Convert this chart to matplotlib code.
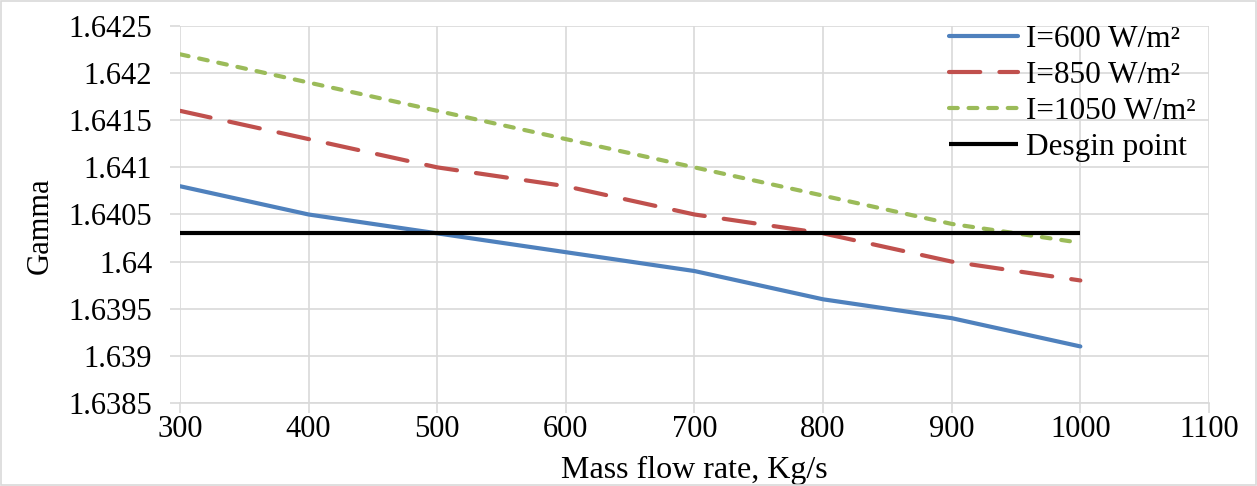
import numpy as np
import matplotlib.pyplot as plt

plt.rcParams.update({'font.family': 'serif'})
plt.rcParams.update({'font.serif': ['Liberation Serif', 'DejaVu Serif']})

# data
mass_flow = [300, 400, 500, 600, 700, 800, 900, 1000]
gamma_600 = [1.6408, 1.6405, 1.6403, 1.6401, 1.6399, 1.6396, 1.6394, 1.6391]
gamma_850 = [1.6416, 1.6413, 1.6410, 1.6408, 1.6405, 1.6403, 1.6400, 1.6398]
gamma_1050 = [1.6422, 1.6419, 1.6416, 1.6413, 1.6410, 1.6407, 1.6404, 1.6402]
design_point = [1.6403] * len(mass_flow)
labels = ['I=600 W/m²', 'I=850 W/m²', 'I=1050 W/m²', 'Desgin point']
ytick_labels = ['1.6385', '1.639', '1.6395', '1.64', '1.6405', '1.641',
                '1.6415', '1.642', '1.6425']

colors = ['#4F81BD', '#C0504D', '#9BBB59', '#000000']

fig = plt.figure(figsize=(12.57, 4.86), dpi=100)
ax = fig.add_axes([0.1432, 0.1708, 0.8186, 0.7757])

lw = 3.0
ax.plot(mass_flow, gamma_600, color=colors[0], lw=lw, label=labels[0],
        solid_capstyle='round')
ax.plot(mass_flow, gamma_850, color=colors[1], lw=lw, dashes=(7.5, 4.6),
        dash_capstyle='round', label=labels[1])
ax.plot(mass_flow, gamma_1050, color=colors[2], lw=lw, dashes=(2.1, 2.6),
        dash_capstyle='round', label=labels[2])
ax.plot(mass_flow, design_point, color=colors[3], lw=lw, label=labels[3],
        solid_capstyle='butt')

ax.set_xlim(300, 1100)
ax.set_ylim(1.6385, 1.6425)
ax.set_xticks(np.arange(300, 1101, 100))
ax.set_yticks(np.arange(1.6385, 1.64251, 0.0005))
ax.set_yticklabels(ytick_labels)
ax.tick_params(axis='both', labelsize=22, length=7, width=1.2,
               color='#D9D9D9')
ax.tick_params(axis='y', pad=13)
ax.tick_params(axis='x', pad=2)
ax.grid(color='#D9D9D9', lw=1.2)
ax.set_axisbelow(True)
for s in ax.spines.values():
    s.set_visible(False)
ax.spines['bottom'].set_visible(True)
ax.spines['bottom'].set_color('#D9D9D9')
ax.spines['bottom'].set_linewidth(1.2)

ax.set_xlabel('Mass flow rate, Kg/s', fontsize=23, va='center')
ax.xaxis.set_label_coords(0.5, -0.178)
ax.set_ylabel('Gamma', fontsize=22, va='center')
ax.yaxis.set_label_coords(-0.136, 0.47)

leg = ax.legend(loc='upper left', bbox_to_anchor=(949 / 1257, 1 - 25 / 486),
                bbox_transform=fig.transFigure, fontsize=22.5, frameon=False,
                handlelength=2.2, handletextpad=0.25, labelspacing=0.22,
                borderpad=0, borderaxespad=0)

fig.patches.append(plt.Rectangle((0.001, 0.002), 0.998, 0.996,
                                 transform=fig.transFigure, fill=False,
                                 edgecolor='#D9D9D9', lw=1.2))

fig.savefig('out.png', dpi=100)
